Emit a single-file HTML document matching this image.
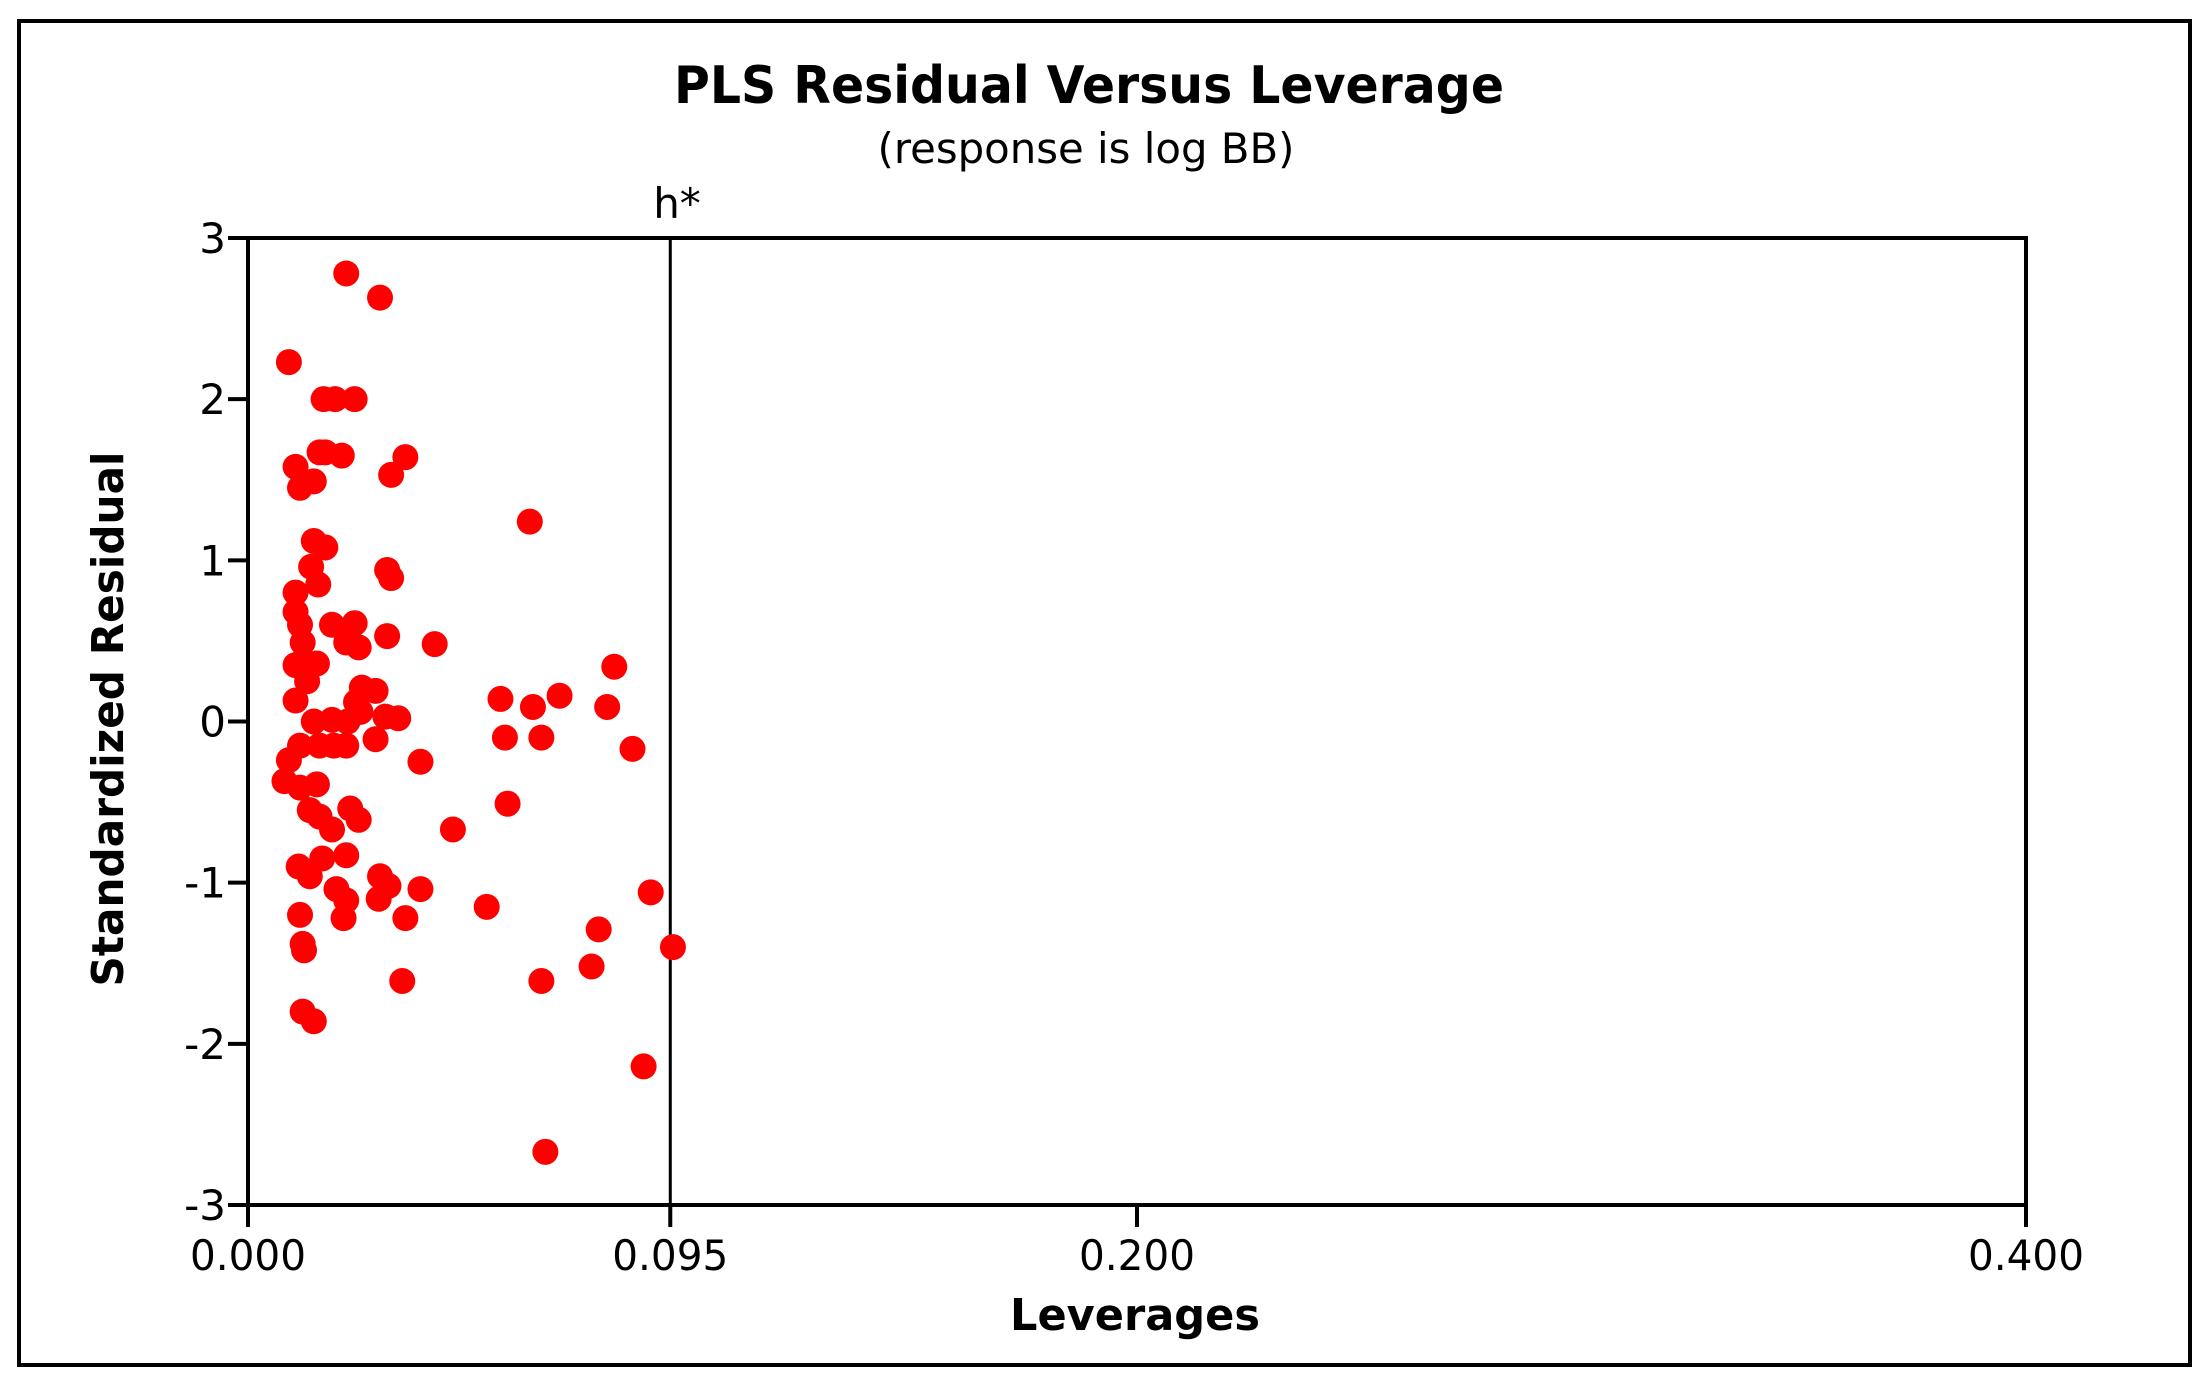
<!DOCTYPE html>
<html><head><meta charset="utf-8"><style>
html,body{margin:0;padding:0;background:#fff;}
svg{display:block;font-family:"DejaVu Sans","Liberation Sans",sans-serif;}
</style></head><body>
<svg id="chart" width="2211" height="1387" viewBox="0 0 2211 1387">
<rect x="19" y="21" width="2171" height="1344" fill="#fff" stroke="#000" stroke-width="4"/>
<text x="1089" y="103" text-anchor="middle" font-weight="bold" font-size="52" textLength="830" lengthAdjust="spacingAndGlyphs">PLS Residual Versus Leverage</text>
<text x="1086" y="163" text-anchor="middle" font-size="42" textLength="417" lengthAdjust="spacingAndGlyphs">(response is log BB)</text>
<text x="677" y="218" text-anchor="middle" font-size="42">h*</text>
<text x="123" y="719" text-anchor="middle" font-weight="bold" font-size="44" transform="rotate(-90 123 719)" textLength="535" lengthAdjust="spacingAndGlyphs">Standardized Residual</text>
<text x="1135" y="1330" text-anchor="middle" font-weight="bold" font-size="44" textLength="250" lengthAdjust="spacingAndGlyphs">Leverages</text>
<g id="ticks"></g>
<g id="points"></g>
<rect x="248" y="238" width="1778" height="967" fill="none" stroke="#000" stroke-width="4"/>
</svg>
<script>
const xTicks = [0, 0.095, 0.2, 0.4];
const xTickLabels = ["0.000", "0.095", "0.200", "0.400"];
const yTicks = [-3, -2, -1, 0, 1, 2, 3];
const yTickLabels = ["-3", "-2", "-1", "0", "1", "2", "3"];
const hStar = 0.095;
const leverage = [0.0221,0.0297,0.0092,0.0170,0.0196,0.0240,0.0161,0.0174,0.0211,0.0354,0.0107,0.0117,0.0148,0.0322,0.0634,0.0148,0.0174,0.0142,0.0313,0.0322,0.0158,0.0107,0.0107,0.0117,0.0189,0.0240,0.0123,0.0221,0.0249,0.0313,0.0420,0.0117,0.0155,0.0107,0.0133,0.0107,0.0256,0.0287,0.0243,0.0568,0.0641,0.0701,0.0808,0.0824,0.0148,0.0189,0.0224,0.0309,0.0338,0.0253,0.0117,0.0161,0.0193,0.0221,0.0287,0.0578,0.0660,0.0865,0.0092,0.0082,0.0155,0.0117,0.0388,0.0139,0.0230,0.0161,0.0249,0.0584,0.0189,0.0461,0.0221,0.0167,0.0114,0.0139,0.0297,0.0199,0.0316,0.0388,0.0906,0.0221,0.0294,0.0537,0.0117,0.0215,0.0354,0.0789,0.0123,0.0126,0.0956,0.0773,0.0347,0.0660,0.0123,0.0148,0.0890,0.0669];
const residual = [2.78,2.63,2.23,2.0,2.0,2.0,1.67,1.67,1.65,1.64,1.58,1.45,1.49,1.53,1.24,1.12,1.08,0.96,0.94,0.89,0.85,0.80,0.68,0.60,0.60,0.61,0.49,0.49,0.46,0.53,0.48,0.36,0.36,0.35,0.25,0.13,0.21,0.19,0.12,0.14,0.09,0.16,0.09,0.34,0.0,0.01,0.0,0.03,0.02,0.06,-0.15,-0.15,-0.15,-0.15,-0.11,-0.10,-0.10,-0.17,-0.24,-0.37,-0.39,-0.41,-0.25,-0.55,-0.54,-0.59,-0.61,-0.51,-0.67,-0.67,-0.83,-0.85,-0.90,-0.96,-0.96,-1.04,-1.02,-1.04,-1.06,-1.11,-1.10,-1.15,-1.20,-1.22,-1.22,-1.29,-1.38,-1.42,-1.40,-1.52,-1.61,-1.61,-1.80,-1.86,-2.14,-2.67];
const NS = "http://www.w3.org/2000/svg";
const X0 = 248, X1 = 2026, Y0 = 1205, Y1 = 238;
function xScale(v){ return X0 + v / 0.4 * (X1 - X0); }
function yScale(v){ return Y0 - (v + 3) / 6 * (Y0 - Y1); }
const tg = document.getElementById('ticks');
xTicks.forEach((t, i) => {
  const x = xScale(t);
  const l = document.createElementNS(NS, 'line');
  l.setAttribute('x1', x); l.setAttribute('x2', x);
  l.setAttribute('y1', Y0); l.setAttribute('y2', Y0 + 22);
  l.setAttribute('stroke', '#000'); l.setAttribute('stroke-width', '4');
  
  
  tg.appendChild(l);
  const tx = document.createElementNS(NS, 'text');
  tx.setAttribute('x', x); tx.setAttribute('y', 1270);
  tx.setAttribute('text-anchor', 'middle'); tx.setAttribute('font-size', '42');
  tx.setAttribute('textLength', '116'); tx.setAttribute('lengthAdjust', 'spacingAndGlyphs');
  tx.textContent = xTickLabels[i];
  
  
  tg.appendChild(tx);
});
yTicks.forEach((t, i) => {
  const y = yScale(t);
  const l = document.createElementNS(NS, 'line');
  l.setAttribute('x1', X0 - 20); l.setAttribute('x2', X0);
  l.setAttribute('y1', y); l.setAttribute('y2', y);
  l.setAttribute('stroke', '#000'); l.setAttribute('stroke-width', '4');
  
  
  tg.appendChild(l);
  const tx = document.createElementNS(NS, 'text');
  tx.setAttribute('x', X0 - 22); tx.setAttribute('y', y + 15);
  tx.setAttribute('text-anchor', 'end'); tx.setAttribute('font-size', '42');
  tx.textContent = yTickLabels[i];
  
  
  tg.appendChild(tx);
});
const hl = document.createElementNS(NS, 'line');
hl.setAttribute('x1', xScale(hStar)); hl.setAttribute('x2', xScale(hStar));
hl.setAttribute('y1', Y1); hl.setAttribute('y2', Y0);
hl.setAttribute('stroke', '#000'); hl.setAttribute('stroke-width', '3');


tg.appendChild(hl);
const pg = document.getElementById('points');
leverage.forEach((v, i) => {
  const c = document.createElementNS(NS, 'circle');
  c.setAttribute('cx', xScale(v)); c.setAttribute('cy', yScale(residual[i]));
  c.setAttribute('r', '13'); c.setAttribute('fill', '#ff0000');
  
  
  pg.appendChild(c);
});
</script>
</body></html>
